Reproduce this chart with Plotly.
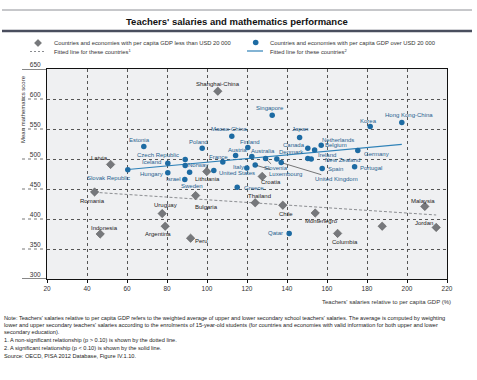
import plotly.graph_objects as go

# ---------------- data ----------------
low_names = ["Shanghai-China", "Latvia", "Romania", "Indonesia", "Bulgaria", "Uruguay",
             "Argentina", "Peru", "Thailand", "Chile", "Montenegro", "Columbia", "",
             "Malaysia", "Jordan", "Croatia", "Lithuania"]
low_x = [105.4, 51.8, 43.8, 46.6, 94.3, 77.6, 79.1, 91.8, 124.1, 137.9, 154.1, 165.3, 187.6,
         208.9, 214.6, 127.6, 99.9]
low_y = [613, 491, 445, 375, 439, 409, 388, 368, 427, 423, 410, 376, 388, 421, 386, 471, 479]

high_names = ["Singapore", "Macao-China", "Japan", "Korea", "Hong Kong-China", "Estonia",
              "Slovak Republic", "Czech Republic", "Iceland", "Hungary", "Norway", "Israel",
              "Sweden", "Poland", "Finland", "Austria", "France", "Australia", "Slovenia",
              "Italy", "United States", "Luxembourg", "Greece", "Qatar", "Canada",
              "Netherlands", "Belgium", "Denmark", "Ireland", "New Zealand", "United Kingdom",
              "Spain", "Portugal", "Germany"]
high_x = [132.6, 112.4, 146.3, 181.6, 197.4, 68.4, 60.4, 89.1, 80.4, 80.4, 89.1, 88.9,
          91.3, 97.6, 120.4, 114.3, 107.9, 122.4, 129.3, 119.9, 103.4, 124.1, 115.1, 141.1,
          150.4, 157.1, 153.8, 134.9, 150.4, 152.1, 137.1, 157.6, 173.8, 175.4]
high_y = [573, 538, 536, 554, 561, 521, 482, 499, 493, 477, 489, 466, 478, 518, 519, 506,
          495, 504, 501, 485, 481, 490, 453, 376, 518, 523, 515, 500, 501, 500, 494, 484,
          487, 514]

fit_low_x = [43.8, 214.6]
fit_low_y = [444.5, 406.7]
fit_high_x = [60.4, 197.4]
fit_high_y = [482.5, 524.5]

x_ticks = [20, 40, 60, 80, 100, 120, 140, 160, 180, 200, 220]
y_ticks = [300, 350, 400, 450, 500, 550, 600, 650]

title_text = "Teachers' salaries and mathematics performance"
legend_low = "Countries and economies with per capita GDP less than USD 20 000"
legend_high = "Countries and economies with per capita GDP over USD 20 000"
legend_fit_low = "Fitted line for these countries<sup>1</sup>"
legend_fit_high = "Fitted line for these countries<sup>2</sup>"
y_title = "Mean mathematics score"
x_title = "Teachers' salaries relative to per capita GDP (%)"
notes = [
    "Note: Teachers' salaries relative to per capita GDP refers to the weighted average of upper and lower secondary school teachers' salaries. The average is computed by weighting",
    "lower and upper secondary teachers' salaries according to the enrolments of 15-year-old students (for countries and economies with valid information for both upper and lower",
    "secondary education).",
    "1. A non-significant relationship (p > 0.10) is shown by the dotted line.",
    "2. A significant relationship (p < 0.10) is shown by the solid line.",
    "Source: OECD, PISA 2012 Database, Figure IV.1.10.",
]

# ---------------- style ----------------
W, H = 477, 380
L, R, T, B = 47, 30, 69, 101
PW, PH = W - L - R, H - T - B
FONT = "Liberation Sans, Arial, sans-serif"
BLUE = "#1d6ba3"
BLUE_TXT = "#1f5f8f"
GREY = "#76787c"
DARK = "#222222"


def px2p(px):
    return (px - L) / PW


def py2p(py):
    return (H - B - py) / PH


# label offsets in screen px (dx right, dy down) from the marker
label_off = {
    "Shanghai-China": (0, -7.5), "Latvia": (-11, -6), "Romania": (-2, 9), "Indonesia": (4, -6.5),
    "Bulgaria": (10.7, 11), "Uruguay": (3, -8.3), "Argentina": (-7, 7.7), "Peru": (10.7, 2.3),
    "Thailand": (4.6, -6.7), "Chile": (3.4, 9), "Montenegro": (6, 8.3), "Columbia": (7.3, 9),
    "Malaysia": (-2, -5.7), "Jordan": (-12.7, -4.4), "Croatia": (8.3, 6), "Lithuania": (1, 7.6),
    "Singapore": (-2.7, -7.7), "Macao-China": (-3.3, -7.7), "Japan": (0, -8.5), "Korea": (-1.8, -5.5),
    "Hong Kong-China": (6.7, -7.3), "Estonia": (-4.3, -6.7), "Slovak Republic": (-19.3, 8),
    "Czech Republic": (-27, -5), "Iceland": (-16.6, -1.3), "Hungary": (-16.6, 1),
    "Norway": (12.6, -1), "Israel": (-11, -0.7), "Sweden": (2.5, 13.7), "Poland": (-3.5, -6.7),
    "Finland": (2.5, -5.7), "Austria": (2.3, -5), "France": (-4, -4.7), "Australia": (11, -6),
    "Slovenia": (10, 10), "Italy": (-8, -1), "United States": (23.5, 2.7),
    "Luxembourg": (30, 9), "Greece": (16.5, 0.6), "Qatar": (-14, 0), "Canada": (-14, -3.7),
    "Netherlands": (16.6, -5.3), "Belgium": (21.7, -5), "Denmark": (14.4, -6.6),
    "Ireland": (19.5, -3.4), "New Zealand": (31.6, 1.4), "United Kingdom": (55, 16.6),
    "Spain": (12.8, 0), "Portugal": (16.7, 1), "Germany": (18.4, 3.3),
}
leaders = {"Slovenia", "Luxembourg", "United Kingdom"}

fig = go.Figure()

fig.add_trace(go.Scatter(x=fit_low_x, y=fit_low_y, mode="lines",
                         line=dict(color="#8a8c90", width=1, dash="3px,2px"),
                         hoverinfo="skip", showlegend=False))
fig.add_trace(go.Scatter(x=fit_high_x, y=fit_high_y, mode="lines",
                         line=dict(color="#2f82b8", width=1.2),
                         hoverinfo="skip", showlegend=False))
fig.add_trace(go.Scatter(x=low_x, y=low_y, mode="markers", text=low_names,
                         marker=dict(symbol="diamond", size=6.5, color=GREY,
                                     line=dict(color="#555", width=0.5)),
                         showlegend=False, cliponaxis=False))
fig.add_trace(go.Scatter(x=high_x, y=high_y, mode="markers", text=high_names,
                         marker=dict(symbol="circle", size=5.5, color=BLUE,
                                     line=dict(color=BLUE, width=0)),
                         showlegend=False, cliponaxis=False))

annotations = []


def add_labels(names, xs, ys, color):
    for n, x, y in zip(names, xs, ys):
        if not n:
            continue
        dx, dy = label_off.get(n, (0, -7))
        if n in leaders:
            annotations.append(dict(x=x, y=y, xref="x", yref="y", text=n, showarrow=True,
                                    ax=dx, ay=dy, arrowhead=0, arrowwidth=0.6,
                                    arrowcolor=DARK, standoff=2,
                                    font=dict(family=FONT, size=6, color=color)))
        else:
            annotations.append(dict(x=x, y=y, xref="x", yref="y", text=n, showarrow=False,
                                    xshift=dx, yshift=-dy, xanchor="center", yanchor="middle",
                                    font=dict(family=FONT, size=6, color=color)))


add_labels(low_names, low_x, low_y, DARK)
add_labels(high_names, high_x, high_y, BLUE_TXT)

# title
annotations.append(dict(x=0.5 * (px2p(2) + px2p(472)), y=py2p(22), xref="paper", yref="paper",
                        text="<b>" + title_text + "</b>", showarrow=False,
                        xanchor="center", yanchor="middle",
                        font=dict(family=FONT, size=9.5, color="#111")))
# legend texts
for txt, px, py in [(legend_low, 52, 43), (legend_fit_low, 52, 51),
                    (legend_high, 268, 43), (legend_fit_high, 268, 51)]:
    annotations.append(dict(x=px2p(px), y=py2p(py), xref="paper", yref="paper", text=txt,
                            showarrow=False, xanchor="left", yanchor="middle",
                            font=dict(family=FONT, size=5.8, color="#333")))
# axis titles
annotations.append(dict(x=px2p(23), y=py2p(109), xref="paper", yref="paper", text=y_title,
                        showarrow=False, textangle=-90, xanchor="center", yanchor="middle",
                        font=dict(family=FONT, size=6, color="#333")))
annotations.append(dict(x=px2p(453), y=py2p(302), xref="paper", yref="paper", text=x_title,
                        showarrow=False, xanchor="right", yanchor="middle",
                        font=dict(family=FONT, size=6, color="#333")))
# notes
for txt, py in zip(notes, [318, 324.7, 331.5, 340, 347.7, 356]):
    annotations.append(dict(x=px2p(2), y=py2p(py), xref="paper", yref="paper", text=txt,
                            showarrow=False, xanchor="left", yanchor="middle",
                            font=dict(family=FONT, size=5.63, color="#222")))

shapes = []
# title rules
shapes.append(dict(type="line", xref="paper", yref="paper", x0=px2p(2), x1=px2p(472),
                   y0=py2p(10), y1=py2p(10), line=dict(color="#8e9096", width=1)))
shapes.append(dict(type="line", xref="paper", yref="paper", x0=px2p(2), x1=px2p(472),
                   y0=py2p(31), y1=py2p(31), line=dict(color="#4a4e5e", width=2.5)))
# legend symbols
cx, cy, s = 38, 43, 3.5
shapes.append(dict(type="path", xref="paper", yref="paper",
                   path=f"M {px2p(cx-s)} {py2p(cy)} L {px2p(cx)} {py2p(cy-s)} L {px2p(cx+s)} {py2p(cy)} L {px2p(cx)} {py2p(cy+s)} Z",
                   fillcolor=GREY, line=dict(color="#555", width=0.5)))
cx, cy, r = 255.7, 42.5, 2.8
shapes.append(dict(type="circle", xref="paper", yref="paper", x0=px2p(cx - r), x1=px2p(cx + r),
                   y0=py2p(cy + r), y1=py2p(cy - r), fillcolor=BLUE, line=dict(width=0)))
shapes.append(dict(type="line", xref="paper", yref="paper", x0=px2p(30), x1=px2p(46),
                   y0=py2p(51.5), y1=py2p(51.5),
                   line=dict(color="#8a8c90", width=1, dash="2px,2px")))
shapes.append(dict(type="line", xref="paper", yref="paper", x0=px2p(247), x1=px2p(263),
                   y0=py2p(51), y1=py2p(51), line=dict(color="#2f82b8", width=1.2)))
# gridline extensions to the left of the y axis
for v in y_ticks:
    solid = v in (y_ticks[0], y_ticks[-1])
    shapes.append(dict(type="line", xref="paper", yref="y", x0=px2p(22), x1=0, y0=v, y1=v,
                       line=dict(color="#111" if solid else "#555",
                                 width=1 if solid else 0.8,
                                 dash="solid" if solid else "dot")))

fig.update_layout(
    width=W, height=H,
    margin=dict(l=L, r=R, t=T, b=B, pad=0),
    paper_bgcolor="white", plot_bgcolor="#eff0f2",
    font=dict(family=FONT, size=6.5, color="#333"),
    showlegend=False,
    annotations=annotations, shapes=shapes,
    xaxis=dict(range=[20, 220], tickvals=x_ticks, ticks="outside", ticklen=3,
               tickcolor="#111", tickwidth=1, showline=True, linecolor="#111", linewidth=1,
               mirror=True, showgrid=True, gridcolor="#555", gridwidth=0.8, griddash="dot",
               zeroline=False, tickfont=dict(size=6.5, color="#333")),
    yaxis=dict(range=[300, 650], tickvals=y_ticks, ticks="", showline=True,
               linecolor="#111", linewidth=1, mirror=True, showgrid=True, gridcolor="#555",
               gridwidth=0.8, griddash="dot", zeroline=False,
               ticklabelposition="outside top", ticklabelstandoff=4,
               tickfont=dict(size=6.5, color="#333")),
)

fig.write_html("out.html", config={"displayModeBar": False},
               post_script="document.body.style.margin='0';document.body.style.overflow='hidden';")
